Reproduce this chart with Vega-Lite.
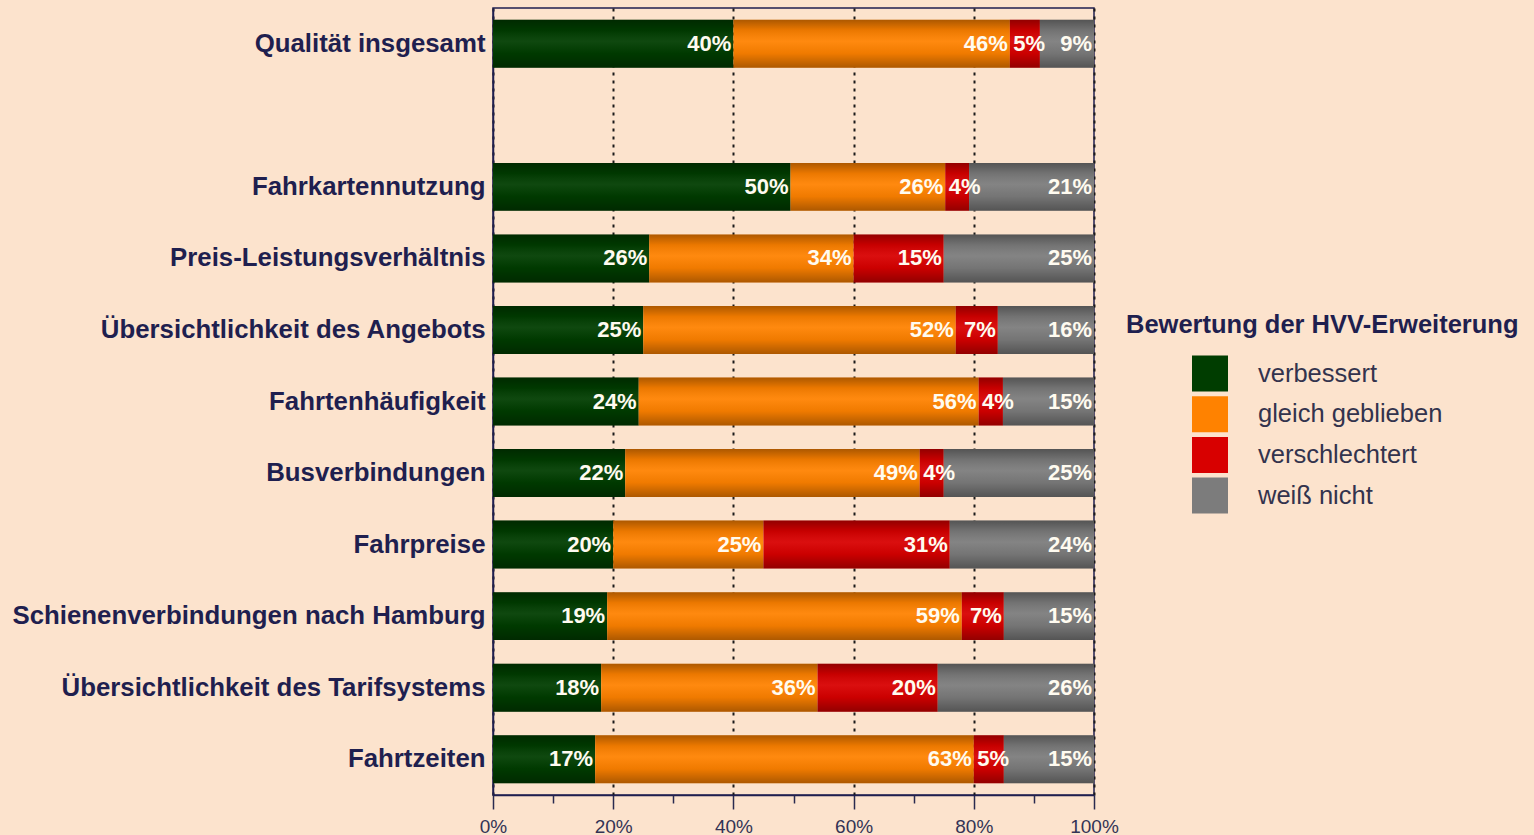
{
  "$schema": "https://vega.github.io/schema/vega-lite/v6.json",
  "width": 601,
  "height": 787,
  "autosize": {"type": "none"},
  "padding": {"left": 493, "top": 8, "right": 440, "bottom": 40},
  "background": "#FCE3CD",
  "config": {
    "view": {"stroke": "#1f1f4f", "strokeWidth": 1.5},
    "font": "Liberation Sans"
  },
  "data": {
    "values": [
      {"item": "Qualität insgesamt", "rating": "verbessert", "value": 40},
      {"item": "Qualität insgesamt", "rating": "gleich geblieben", "value": 46},
      {"item": "Qualität insgesamt", "rating": "verschlechtert", "value": 5},
      {"item": "Qualität insgesamt", "rating": "weiß nicht", "value": 9},
      {"item": "Fahrkartennutzung", "rating": "verbessert", "value": 50},
      {"item": "Fahrkartennutzung", "rating": "gleich geblieben", "value": 26},
      {"item": "Fahrkartennutzung", "rating": "verschlechtert", "value": 4},
      {"item": "Fahrkartennutzung", "rating": "weiß nicht", "value": 21},
      {"item": "Preis-Leistungsverhältnis", "rating": "verbessert", "value": 26},
      {"item": "Preis-Leistungsverhältnis", "rating": "gleich geblieben", "value": 34},
      {"item": "Preis-Leistungsverhältnis", "rating": "verschlechtert", "value": 15},
      {"item": "Preis-Leistungsverhältnis", "rating": "weiß nicht", "value": 25},
      {"item": "Übersichtlichkeit des Angebots", "rating": "verbessert", "value": 25},
      {"item": "Übersichtlichkeit des Angebots", "rating": "gleich geblieben", "value": 52},
      {"item": "Übersichtlichkeit des Angebots", "rating": "verschlechtert", "value": 7},
      {"item": "Übersichtlichkeit des Angebots", "rating": "weiß nicht", "value": 16},
      {"item": "Fahrtenhäufigkeit", "rating": "verbessert", "value": 24},
      {"item": "Fahrtenhäufigkeit", "rating": "gleich geblieben", "value": 56},
      {"item": "Fahrtenhäufigkeit", "rating": "verschlechtert", "value": 4},
      {"item": "Fahrtenhäufigkeit", "rating": "weiß nicht", "value": 15},
      {"item": "Busverbindungen", "rating": "verbessert", "value": 22},
      {"item": "Busverbindungen", "rating": "gleich geblieben", "value": 49},
      {"item": "Busverbindungen", "rating": "verschlechtert", "value": 4},
      {"item": "Busverbindungen", "rating": "weiß nicht", "value": 25},
      {"item": "Fahrpreise", "rating": "verbessert", "value": 20},
      {"item": "Fahrpreise", "rating": "gleich geblieben", "value": 25},
      {"item": "Fahrpreise", "rating": "verschlechtert", "value": 31},
      {"item": "Fahrpreise", "rating": "weiß nicht", "value": 24},
      {"item": "Schienenverbindungen nach Hamburg", "rating": "verbessert", "value": 19},
      {"item": "Schienenverbindungen nach Hamburg", "rating": "gleich geblieben", "value": 59},
      {"item": "Schienenverbindungen nach Hamburg", "rating": "verschlechtert", "value": 7},
      {"item": "Schienenverbindungen nach Hamburg", "rating": "weiß nicht", "value": 15},
      {"item": "Übersichtlichkeit des Tarifsystems", "rating": "verbessert", "value": 18},
      {"item": "Übersichtlichkeit des Tarifsystems", "rating": "gleich geblieben", "value": 36},
      {"item": "Übersichtlichkeit des Tarifsystems", "rating": "verschlechtert", "value": 20},
      {"item": "Übersichtlichkeit des Tarifsystems", "rating": "weiß nicht", "value": 26},
      {"item": "Fahrtzeiten", "rating": "verbessert", "value": 17},
      {"item": "Fahrtzeiten", "rating": "gleich geblieben", "value": 63},
      {"item": "Fahrtzeiten", "rating": "verschlechtert", "value": 5},
      {"item": "Fahrtzeiten", "rating": "weiß nicht", "value": 15}
    ]
  },
  "transform": [
    {"calculate": "indexof(['verbessert','gleich geblieben','verschlechtert','weiß nicht'], datum.rating)", "as": "ord"},
    {"stack": "value", "groupby": ["item"], "sort": [{"field": "ord", "order": "ascending"}], "offset": "normalize", "as": ["x0", "x1"]},
    {"calculate": "datum.value + '%'", "as": "label"},
    {"calculate": "max(datum.x1, datum.x0 + 0.062)", "as": "labelX"}
  ],
  "encoding": {
    "y": {
      "field": "item",
      "type": "nominal",
      "scale": {
        "domain": ["Qualität insgesamt", " ", "Fahrkartennutzung", "Preis-Leistungsverhältnis", "Übersichtlichkeit des Angebots", "Fahrtenhäufigkeit", "Busverbindungen", "Fahrpreise", "Schienenverbindungen nach Hamburg", "Übersichtlichkeit des Tarifsystems", "Fahrtzeiten"],
        "paddingInner": 0.33,
        "paddingOuter": 0.165
      },
      "axis": {
        "title": null,
        "labelFont": "Liberation Sans",
        "labelFontSize": 25.8,
        "labelFontWeight": "bold",
        "labelColor": "#1f1f4f",
        "labelPadding": 8,
        "labelLimit": 600,
        "ticks": false,
        "domainColor": "#1f1f4f",
        "domainWidth": 1.5
      }
    }
  },
  "layer": [
    {
      "mark": {"type": "bar"},
      "encoding": {
        "x": {
          "field": "x0",
          "type": "quantitative",
          "scale": {"domain": [0, 1], "nice": false},
          "axis": {
            "orient": "bottom",
            "values": [0, 0.2, 0.4, 0.6, 0.8, 1],
            "format": ".0%",
            "title": null,
            "grid": true,
            "gridDash": [3, 5],
            "gridColor": "#1a1a1a",
            "gridWidth": 2,
            "tickSize": 14,
            "tickColor": "#2a2a4f",
            "tickWidth": 1.5,
            "domainColor": "#1f1f4f",
            "domainWidth": 1.5,
            "labelFont": "Liberation Sans",
            "labelFontSize": 19,
            "labelColor": "#333355",
            "labelPadding": 8,
            "labelFlush": false,
            "labelOverlap": false,
            "zindex": 0
          }
        },
        "x2": {"field": "x1"},
        "color": {
          "field": "rating",
          "type": "nominal",
          "scale": {
            "domain": ["verbessert", "gleich geblieben", "verschlechtert", "weiß nicht"],
            "range": ["#003D00", "#FF8200", "#D80000", "#7C7C7C"]
          },
          "legend": {
            "orient": "none",
            "legendX": 633,
            "legendY": 305,
            "title": "Bewertung der HVV-Erweiterung",
            "titleFont": "Liberation Sans",
            "titleFontSize": 25.5,
            "titleFontWeight": "bold",
            "titleColor": "#1f1f4f",
            "titlePadding": 17,
            "titleLimit": 700,
            "labelFont": "Liberation Sans",
            "labelFontSize": 25.5,
            "labelColor": "#33334d",
            "labelLimit": 500,
            "symbolType": "square",
            "symbolSize": 1296,
            "symbolStrokeWidth": 0,
            "symbolOffset": 66,
            "labelOffset": 30,
            "rowPadding": 4.7
          }
        }
      }
    },
    {
      "mark": {
        "type": "bar",
        "color": {
          "gradient": "linear",
          "x1": 0, "y1": 0, "x2": 0, "y2": 1,
          "stops": [
            {"offset": 0, "color": "rgba(0,0,0,0.32)"},
            {"offset": 0.22, "color": "rgba(0,0,0,0.08)"},
            {"offset": 0.45, "color": "rgba(255,255,255,0.06)"},
            {"offset": 0.7, "color": "rgba(0,0,0,0.06)"},
            {"offset": 1, "color": "rgba(0,0,0,0.32)"}
          ]
        }
      },
      "encoding": {
        "x": {
          "field": "x0",
          "type": "quantitative",
          "axis": {
            "orient": "bottom",
            "values": [0.1, 0.3, 0.5, 0.7, 0.9],
            "labels": false,
            "grid": false,
            "domain": false,
            "title": null,
            "tickSize": 8,
            "tickWidth": 1.5,
            "tickColor": "#2a2a4f"
          }
        },
        "x2": {"field": "x1"}
      }
    },
    {
      "mark": {
        "type": "text",
        "align": "right",
        "baseline": "middle",
        "dx": -2,
        "font": "Liberation Sans",
        "fontSize": 22,
        "fontWeight": "bold",
        "color": "#FFFBF0"
      },
      "encoding": {
        "x": {"field": "labelX", "type": "quantitative", "axis": null},
        "text": {"field": "label"}
      }
    }
  ],
  "resolve": {"axis": {"x": "independent"}}
}
